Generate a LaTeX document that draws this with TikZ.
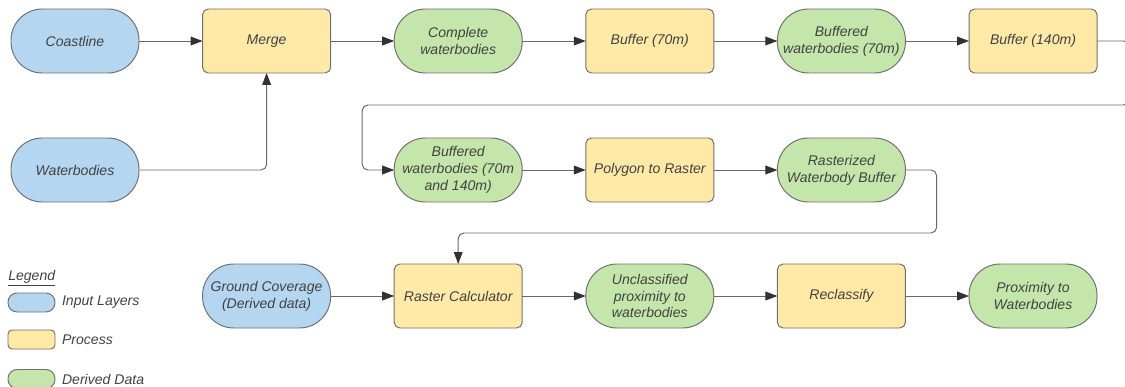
\documentclass[tikz,border=0pt]{standalone}
\usepackage{fontspec}
\setmainfont{Liberation Sans}
\usetikzlibrary{arrows.meta, positioning}
\definecolor{incol}{RGB}{180,214,240}
\definecolor{proccol}{RGB}{255,233,166}
\definecolor{dercol}{RGB}{197,230,170}
\definecolor{edgecol}{RGB}{112,112,112}
\definecolor{txtcol}{RGB}{66,66,66}
\definecolor{arrowcol}{RGB}{105,105,105}
\definecolor{headcol}{RGB}{50,50,50}
\tikzset{
  base/.style={rectangle, minimum width=3.2cm, minimum height=1.6cm,
    inner xsep=2pt, outer sep=0pt, align=center, draw=edgecol, line width=0.7pt,
    text=txtcol, font=\fontsize{10}{12}\selectfont\itshape},
  inlayer/.style={base, fill=incol, rounded corners=0.78cm},
  proc/.style={base, fill=proccol, rounded corners=4pt},
  derived/.style={base, fill=dercol, rounded corners=0.78cm},
  key/.style={minimum width=1.175cm, minimum height=0.475cm, inner sep=0pt},
  keytxt/.style={text=txtcol, font=\fontsize{10}{12}\selectfont\itshape,
    inner sep=0pt, anchor=west},
  arr/.style={-{Triangle[length=0.3cm, width=0.22cm, color=headcol]},
    line width=0.7pt, color=arrowcol, rounded corners=4pt},
}
\begin{document}
\begin{tikzpicture}[node distance=1.6cm and 1.59cm]
  \useasboundingbox (0,0) rectangle (28.125,-9.675);

  % top row
  \node[inlayer] (coast) at (1.875,-1.025) {Coastline};
  \node[proc, right=of coast] (merge) {Merge};
  \node[derived, right=of merge] (complete) {Complete\\waterbodies};
  \node[proc, right=of complete] (buf70) {Buffer (70m)};
  \node[derived, right=of buf70] (bwb70) {Buffered\\waterbodies (70m)};
  \node[proc, right=of bwb70] (buf140) {Buffer (140m)};

  % second row
  \node[inlayer, below=1.625cm of coast] (water) {Waterbodies};
  \node[derived, below=1.625cm of complete] (bwbboth) {Buffered\\waterbodies (70m\\and 140m)};
  \node[proc, right=of bwbboth] (poly) {Polygon to Raster};
  \node[derived, right=of poly] (rast) {Rasterized\\Waterbody Buffer};

  % third row
  \node[proc, below=1.55cm of bwbboth] (calc) {Raster Calculator};
  \node[inlayer, left=of calc] (ground) {Ground Coverage\\(Derived data)};
  \node[derived, right=of calc] (uncl) {Unclassified\\proximity to\\waterbodies};
  \node[proc, right=of uncl] (recl) {Reclassify};
  \node[derived, right=of recl] (prox) {Proximity to\\Waterbodies};

  % Legend
  \node[keytxt] (legtitle) at (0.2,-6.95) {\underline{Legend}};
  \node[inlayer, key, rounded corners=0.23cm, anchor=west] (keyin) at (0.2,-7.5625) {};
  \node[proc, key, rounded corners=3pt, anchor=west] (keyproc) at (0.2,-8.4875) {};
  \node[derived, key, rounded corners=0.23cm, anchor=west] (keyder) at (0.2,-9.475) {};
  \node[keytxt, right=0.17cm of keyin] (keyintxt) {Input Layers};
  \node[keytxt, right=0.17cm of keyproc] (keyproctxt) {Process};
  \node[keytxt, right=0.17cm of keyder] (keydertxt) {Derived Data};

  % Main flow
  \draw[arr] (coast) -- (merge);
  \draw[arr] (water) -| (merge);
  \draw[arr] (merge) -- (complete);
  \draw[arr] (complete) -- (buf70);
  \draw[arr] (buf70) -- (bwb70);
  \draw[arr] (bwb70) -- (buf140);
  \draw[arr] (buf140.east) -- ++(0.8,0) -- ++(0,-1.6)
    -| ([xshift=-0.8cm]bwbboth.west) -- (bwbboth.west);
  \draw[arr] (bwbboth) -- (poly);
  \draw[arr] (poly) -- (rast);
  \draw[arr] (rast.east) -- ++(0.78,0) -- ++(0,-1.575) -| (calc.north);
  \draw[arr] (ground) -- (calc);
  \draw[arr] (calc) -- (uncl);
  \draw[arr] (uncl) -- (recl);
  \draw[arr] (recl) -- (prox);

\end{tikzpicture}
\end{document}
